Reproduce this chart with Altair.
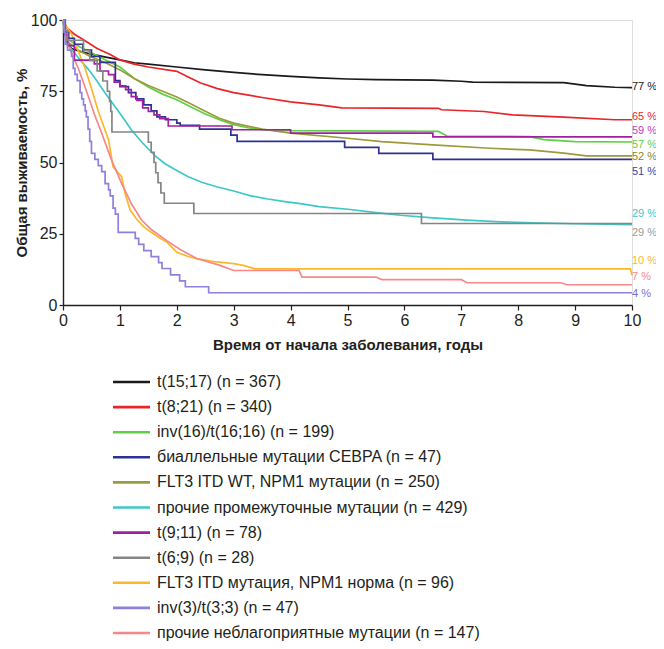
import altair as alt
import pandas as pd

FONT = "'Liberation Sans', Arial, sans-serif"
INK = "#231f20"

# ---- series ----
series = [
    "t(15;17)", "t(8;21)", "inv(16)/t(16;16)", "биаллельные мутации CEBPA",
    "FLT3 ITD WT, NPM1 мутации", "прочие промежуточные мутации", "t(9;11)",
    "t(6;9)", "FLT3 ITD мутация, NPM1 норма", "inv(3)/t(3;3)",
    "прочие неблагоприятные мутации",
]
n_values = [367, 340, 199, 47, 250, 429, 78, 28, 96, 47, 147]
colors = ["#1a1a1a", "#e8262a", "#5fcf45", "#2e3192", "#9c9a3c", "#3cc8c8",
          "#a020a0", "#858585", "#fbb82a", "#8c82dc", "#f7888a"]
step_series = ["биаллельные мутации CEBPA", "t(9;11)", "t(6;9)", "inv(3)/t(3;3)"]

# ---- survival curves (years, % alive) ----
t1517_x = [0, 0.03, 0.08, 0.15, 0.3, 0.5, 0.75, 1.0, 1.25, 1.5, 2.0, 2.5, 3.0, 3.5, 4.0,
           4.5, 5.0, 5.5, 6.0, 6.5, 7.0, 7.2, 8.8, 9.0, 9.2, 9.7, 10]
t1517_y = [100, 96, 92, 90, 89, 88, 87, 86, 85, 84.5, 83.5, 82.5, 81.6, 80.8, 80.2,
           79.7, 79.3, 79.1, 79.0, 78.9, 78.5, 78.2, 78.0, 77.5, 77.0, 76.4, 76.3]

t821_x = [0, 0.07, 0.2, 0.36, 0.6, 0.83, 1.0, 1.25, 1.5, 2.0, 2.2, 2.41, 2.7, 3.0, 3.5,
          4.0, 4.5, 4.9, 6.6, 6.65, 7.4, 7.9, 8.8, 9.7, 10]
t821_y = [100, 97.2, 95, 93.1, 90, 87.9, 86, 84.5, 83.5, 82, 80, 78, 76, 74.5, 72.8,
          71.3, 70.2, 69.2, 69.0, 68.5, 67.9, 66.7, 65.9, 65.0, 65.0]

inv16_x = [0, 0.05, 0.1, 0.3, 0.5, 0.75, 1.0, 1.25, 1.5, 1.75, 2.0, 2.25, 2.5, 2.75, 3.0,
           3.25, 3.5, 4.0, 5.0, 6.6, 6.75, 8.2, 8.45, 9.0, 10]
inv16_y = [100, 95.5, 93, 90.5, 88.5, 86, 83.5, 79.5, 76.5, 74, 72, 69.5, 67, 65, 63.3,
           62.2, 61.5, 61.2, 61.1, 60.9, 59.3, 59.1, 58.0, 57.3, 57.2]

cebpa_x = [0, 0.04, 0.1, 0.2, 0.35, 0.5, 0.65, 0.92, 1.0, 1.15, 1.28, 1.42, 1.55, 1.65,
           1.8, 2.0, 2.06, 2.4, 2.95, 3.06, 4.95, 5.55, 6.5, 10]
cebpa_y = [100, 95.7, 93.6, 91.5, 89.4, 87.2, 85.1, 78.7, 76.6, 74.5, 72.3, 70.2, 68.1,
           66.0, 65.0, 63.8, 63.0, 61.7, 59.6, 57.4, 55.3, 53.2, 51.1, 51.1]

npm1_x = [0, 0.05, 0.1, 0.3, 0.5, 0.75, 1.0, 1.25, 1.5, 1.75, 2.0, 2.25, 2.5, 2.75, 3.0,
          3.5, 4.0, 5.0, 5.6, 6.5, 7.5, 8.2, 8.8, 9.2, 10]
npm1_y = [100, 95, 92, 89, 87, 85, 82.5, 79.5, 77, 75, 73, 70.5, 68, 65.5, 63.8,
          61.7, 60.3, 58.5, 57.3, 56.2, 55.0, 54.4, 53.3, 52.3, 52.3]

inter_x = [0, 0.04, 0.1, 0.2, 0.3, 0.45, 0.6, 0.74, 0.9, 1.04, 1.2, 1.39, 1.62, 1.8, 2.0,
           2.2, 2.45, 2.7, 3.0, 3.3, 3.6, 3.9, 4.2, 4.5, 5.05, 5.5, 5.93, 6.5, 7.1, 7.7,
           8.27, 9.0, 10]
inter_y = [100, 94, 91, 88.5, 86, 82.6, 78.5, 74.4, 70, 66.1, 61.5, 57, 52.3, 49.5, 47.2,
           45, 43, 41.5, 40, 38.3, 37.2, 36.3, 35.5, 34.5, 33.5, 32.4, 31.5, 30.6, 29.8,
           29.2, 28.8, 28.5, 28.2]

t911_x = [0, 0.03, 0.08, 0.2, 0.55, 0.65, 0.8, 0.9, 1.0, 1.1, 1.2, 1.3, 1.4, 1.5, 1.6,
          1.7, 1.85, 2.97, 4.0, 6.5, 10]
t911_y = [100, 94.9, 91.0, 85.9, 84.6, 82.1, 80.8, 78.2, 76.9, 75.6, 73.1, 71.8, 69.2,
          67.9, 66.7, 65.4, 62.8, 61.5, 60.3, 59.0, 59.0]

t69_x = [0, 0.03, 0.08, 0.36, 0.47, 0.6, 0.7, 0.78, 0.82, 0.84, 0.86, 1.5, 1.55, 1.6,
         1.63, 1.67, 1.72, 1.78, 2.3, 6.3, 10]
t69_y = [100, 96.4, 92.9, 89.3, 85.7, 82.1, 78.6, 75.0, 71.4, 67.9, 60.7, 57.1, 53.6,
         50.0, 46.4, 42.9, 39.3, 35.7, 32.1, 28.6, 28.6]

flt3_x = [0, 0.05, 0.15, 0.25, 0.39, 0.5, 0.62, 0.8, 0.88, 1.03, 1.09, 1.18, 1.3, 1.42,
          1.55, 1.7, 1.83, 2.0, 2.2, 2.35, 2.7, 3.0, 3.17, 3.38, 9.97, 10]
flt3_y = [100, 98, 95, 90, 83, 76, 68, 58, 48.5, 45, 39.2, 33.3, 30, 27.4,
          25.5, 23.5, 22, 18.5, 17, 16.3, 15.1, 14.5, 13.9, 12.7, 12.7, 10.4]

inv3_x = [0, 0.02, 0.04, 0.08, 0.15, 0.18, 0.21, 0.25, 0.3, 0.33, 0.36, 0.39, 0.41, 0.44,
          0.47, 0.5, 0.56, 0.62, 0.68, 0.74, 0.8, 0.83, 0.88, 0.92, 0.97, 1.27, 1.33,
          1.42, 1.55, 1.68, 1.74, 1.89, 2.05, 2.15, 2.56, 10]
inv3_y = [100, 95.7, 91.5, 89.4, 87.2, 83.0, 80.9, 78.7, 74.5, 72.3, 70.2, 68.1, 66.0,
          61.7, 57.4, 53.2, 51.1, 48.9, 46.8, 42.6, 40.4, 38.3, 34.0, 31.9, 25.5, 23.4,
          21.3, 19.1, 17.0, 14.9, 12.8, 10.6, 8.5, 6.4, 4.3, 4.3]

adv_x = [0, 0.04, 0.09, 0.18, 0.27, 0.36, 0.44, 0.55, 0.68, 0.85, 1.03, 1.2, 1.38, 1.55,
         1.83, 2.06, 2.35, 2.76, 3.0, 4.15, 4.2, 5.5, 5.6, 7.0, 7.1, 8.75, 8.85, 10]
adv_y = [100, 96, 91.5, 87, 83, 78, 73.5, 67, 60.3, 51, 42.7, 35.6, 29.8, 26.5,
         22.5, 19.5, 16.3, 13.9, 12.1, 12.1, 9.8, 9.8, 8.9, 8.9, 7.8, 7.8, 7.1, 7.1]

curves_x = [t1517_x, t821_x, inv16_x, cebpa_x, npm1_x, inter_x, t911_x, t69_x,
            flt3_x, inv3_x, adv_x]
curves_y = [t1517_y, t821_y, inv16_y, cebpa_y, npm1_y, inter_y, t911_y, t69_y,
            flt3_y, inv3_y, adv_y]

# ---- end-of-curve labels ----
end_text = ["77 %", "65 %", "57 %", "51 %", "52 %", "29 %", "59 %", "29 %",
            "10 %", "4 %", "7 %"]
end_label_y = [76.6, 66.0, 56.2, 46.6, 52.0, 32.0, 61.1, 25.3, 15.4, 3.9, 10.0]
end_colors = ["#1a1a1a", "#e8262a", "#5fcf45", "#3a3fa8", "#8a8620", "#3cc8c8",
              "#c040c0", "#9a9a9a", "#fbb82a", "#7b6fd0", "#f7888a"]

# ---- tables ----
rows = []
for name, xs, ys in zip(series, curves_x, curves_y):
    for xv, yv in zip(xs, ys):
        rows.append({"series": name, "x": xv, "y": yv})
df = pd.DataFrame(rows)

lab_df = pd.DataFrame({"series": series, "text": end_text, "x": [10] * len(series),
                       "y": end_label_y, "tcolor": end_colors})

leg_df = pd.DataFrame({
    "series": series,
    "label": [f"{s} (n = {n})" for s, n in zip(series, n_values)],
})

color_scale = alt.Scale(domain=series, range=colors)

x_enc = alt.X("x:Q", scale=alt.Scale(domain=[0, 10], nice=False),
              axis=alt.Axis(values=list(range(11)), format="d", labelFlush=False,
                            title="Время от начала заболевания, годы",
                            grid=False, tickSize=5, labelFontSize=16, titleFontSize=15,
                            titleFontWeight="bold", labelPadding=2, titlePadding=9,
                            domainWidth=1.4, tickWidth=1.2, labelFont=FONT, titleFont=FONT,
                            domainColor=INK, tickColor=INK, labelColor=INK, titleColor=INK))
y_enc = alt.Y("y:Q", scale=alt.Scale(domain=[0, 100], nice=False),
              axis=alt.Axis(values=[0, 25, 50, 75, 100], format="d", labelFlush=False,
                            title="Общая выживаемость, %",
                            grid=False, tickSize=4, labelFontSize=16, titleFontSize=15,
                            titleFontWeight="bold", labelPadding=2, titlePadding=1,
                            domainWidth=1.4, tickWidth=1.2, labelFont=FONT, titleFont=FONT,
                            domainColor=INK, tickColor=INK, labelColor=INK, titleColor=INK))

base = alt.Chart(df).encode(
    x=x_enc, y=y_enc,
    color=alt.Color("series:N", scale=color_scale, legend=None),
    detail="series:N",
)

smooth = base.transform_filter(
    alt.FieldOneOfPredicate(field="series", oneOf=[s for s in series if s not in step_series])
).mark_line(strokeWidth=1.7, interpolate="linear")

steps = base.transform_filter(
    alt.FieldOneOfPredicate(field="series", oneOf=step_series)
).mark_line(strokeWidth=1.7, interpolate="step-after")

labels = alt.Chart(lab_df).mark_text(
    align="left", baseline="middle", dx=0, fontSize=11, font=FONT
).encode(
    x=alt.X("x:Q", scale=alt.Scale(domain=[0, 10], nice=False)),
    y=alt.Y("y:Q", scale=alt.Scale(domain=[0, 100], nice=False)),
    text="text:N",
    color=alt.Color("tcolor:N", scale=None),
)

leg_y = alt.Y("series:N", sort=series, scale=alt.Scale(type="point", range=[362, 613], padding=0),
              axis=None)
leg_rules = alt.Chart(leg_df).mark_rule(strokeWidth=2.6).encode(
    x=alt.value(50), x2=alt.value(87), y=leg_y,
    color=alt.Color("series:N", scale=color_scale, legend=None),
)
leg_text = alt.Chart(leg_df).mark_text(
    align="left", baseline="middle", fontSize=16, font=FONT, color=INK
).encode(x=alt.value(94), y=leg_y, text="label:N")

main = alt.layer(smooth, steps, labels)
legend = alt.layer(leg_rules, leg_text)

chart = alt.layer(main, legend).resolve_scale(y="independent", color="independent").properties(
    width=569, height=285,
    autosize=alt.AutoSizeParams(type="none"),
    padding={"left": 55, "top": 12, "right": 24, "bottom": 336},
).configure_view(stroke=None).configure(background="white")

chart.save("out.html", embed_options={"renderer": "svg", "actions": False})
